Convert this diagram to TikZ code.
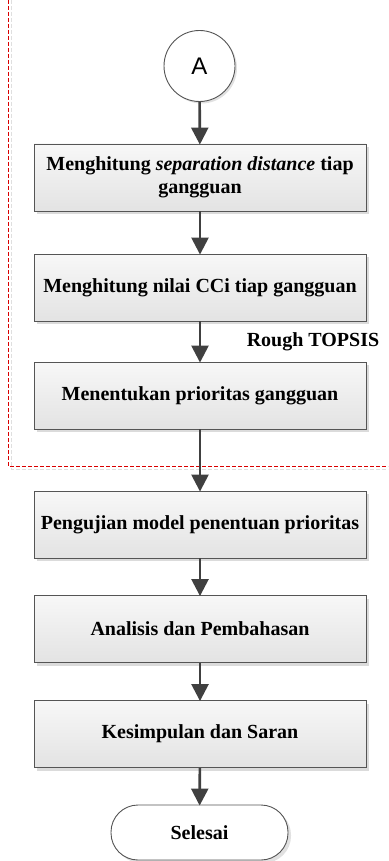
\documentclass[tikz,border=0pt]{standalone}
\usepackage{fontspec}
\setmainfont{Liberation Serif}
\newfontfamily\arialfont{Liberation Sans}
\usetikzlibrary{arrows.meta,shadows}
\definecolor{linec}{HTML}{404040}
\definecolor{boxedge}{HTML}{555555}
\begin{document}
\begin{tikzpicture}[x=1pt,y=-1pt,
  procbox/.style={draw=boxedge, line width=0.9pt, top color=gray!6, bottom color=gray!22,
    minimum width=332pt, minimum height=67pt, inner sep=2pt, align=center,
    font=\fontsize{20}{23}\selectfont\bfseries,
    drop shadow={shadow xshift=3pt, shadow yshift=-3pt, fill=gray!35, opacity=0.8}},
  conn/.style={draw=linec, line width=2.6pt, -{Triangle[width=17pt,length=17pt]}, shorten >=-1pt}
]
\useasboundingbox (0,0) rectangle (388,861);
% dashed region
\draw[gray!25, line width=0.8pt, dash pattern=on 4pt off 2pt] (11,0) -- (11,469) -- (388,469);
\draw[red!85!black, line width=0.8pt, dash pattern=on 4pt off 2pt] (8,0) -- (8,466) -- (388,466);

\node[circle, draw=boxedge, line width=0.9pt, fill=white, minimum size=71pt, inner sep=0pt,
  font=\arialfont\fontsize{24}{28}\selectfont,
  drop shadow={shadow xshift=2pt, shadow yshift=-2pt, fill=gray!30, opacity=0.8}] (A) at (199.5,66) {A};

\node[procbox] (b1) at (200,177.5) {Menghitung \textit{separation distance} tiap\\gangguan};
\node[procbox] (b2) at (200,287.5) {Menghitung nilai CCi tiap gangguan};
\node[procbox] (b3) at (200,395.5) {Menentukan prioritas gangguan};
\node[procbox] (b4) at (200,524.5) {Pengujian model penentuan prioritas};
\node[procbox] (b5) at (200,629) {Analisis dan Pembahasan};
\node[procbox] (b6) at (200,734) {Kesimpulan dan Saran};
\node[draw=boxedge, line width=0.9pt, fill=white, rounded corners=27pt,
  minimum width=177pt, minimum height=55pt, font=\fontsize{20}{23}\selectfont\bfseries,
  drop shadow={shadow xshift=3pt, shadow yshift=-3pt, fill=gray!30, opacity=0.8}] (end) at (199.5,832.5) {Selesai};

\node[font=\fontsize{20}{23}\selectfont\bfseries] (rt) at (313,342) {Rough TOPSIS};

\draw[conn] (A) -- (b1);
\draw[conn] (b1) -- (b2);
\draw[conn] (b2) -- (b3);
\draw[conn] (b3) -- (b4);
\draw[conn] (b4) -- (b5);
\draw[conn] (b5) -- (b6);
\draw[conn] (b6) -- (end);
\end{tikzpicture}
\end{document}
